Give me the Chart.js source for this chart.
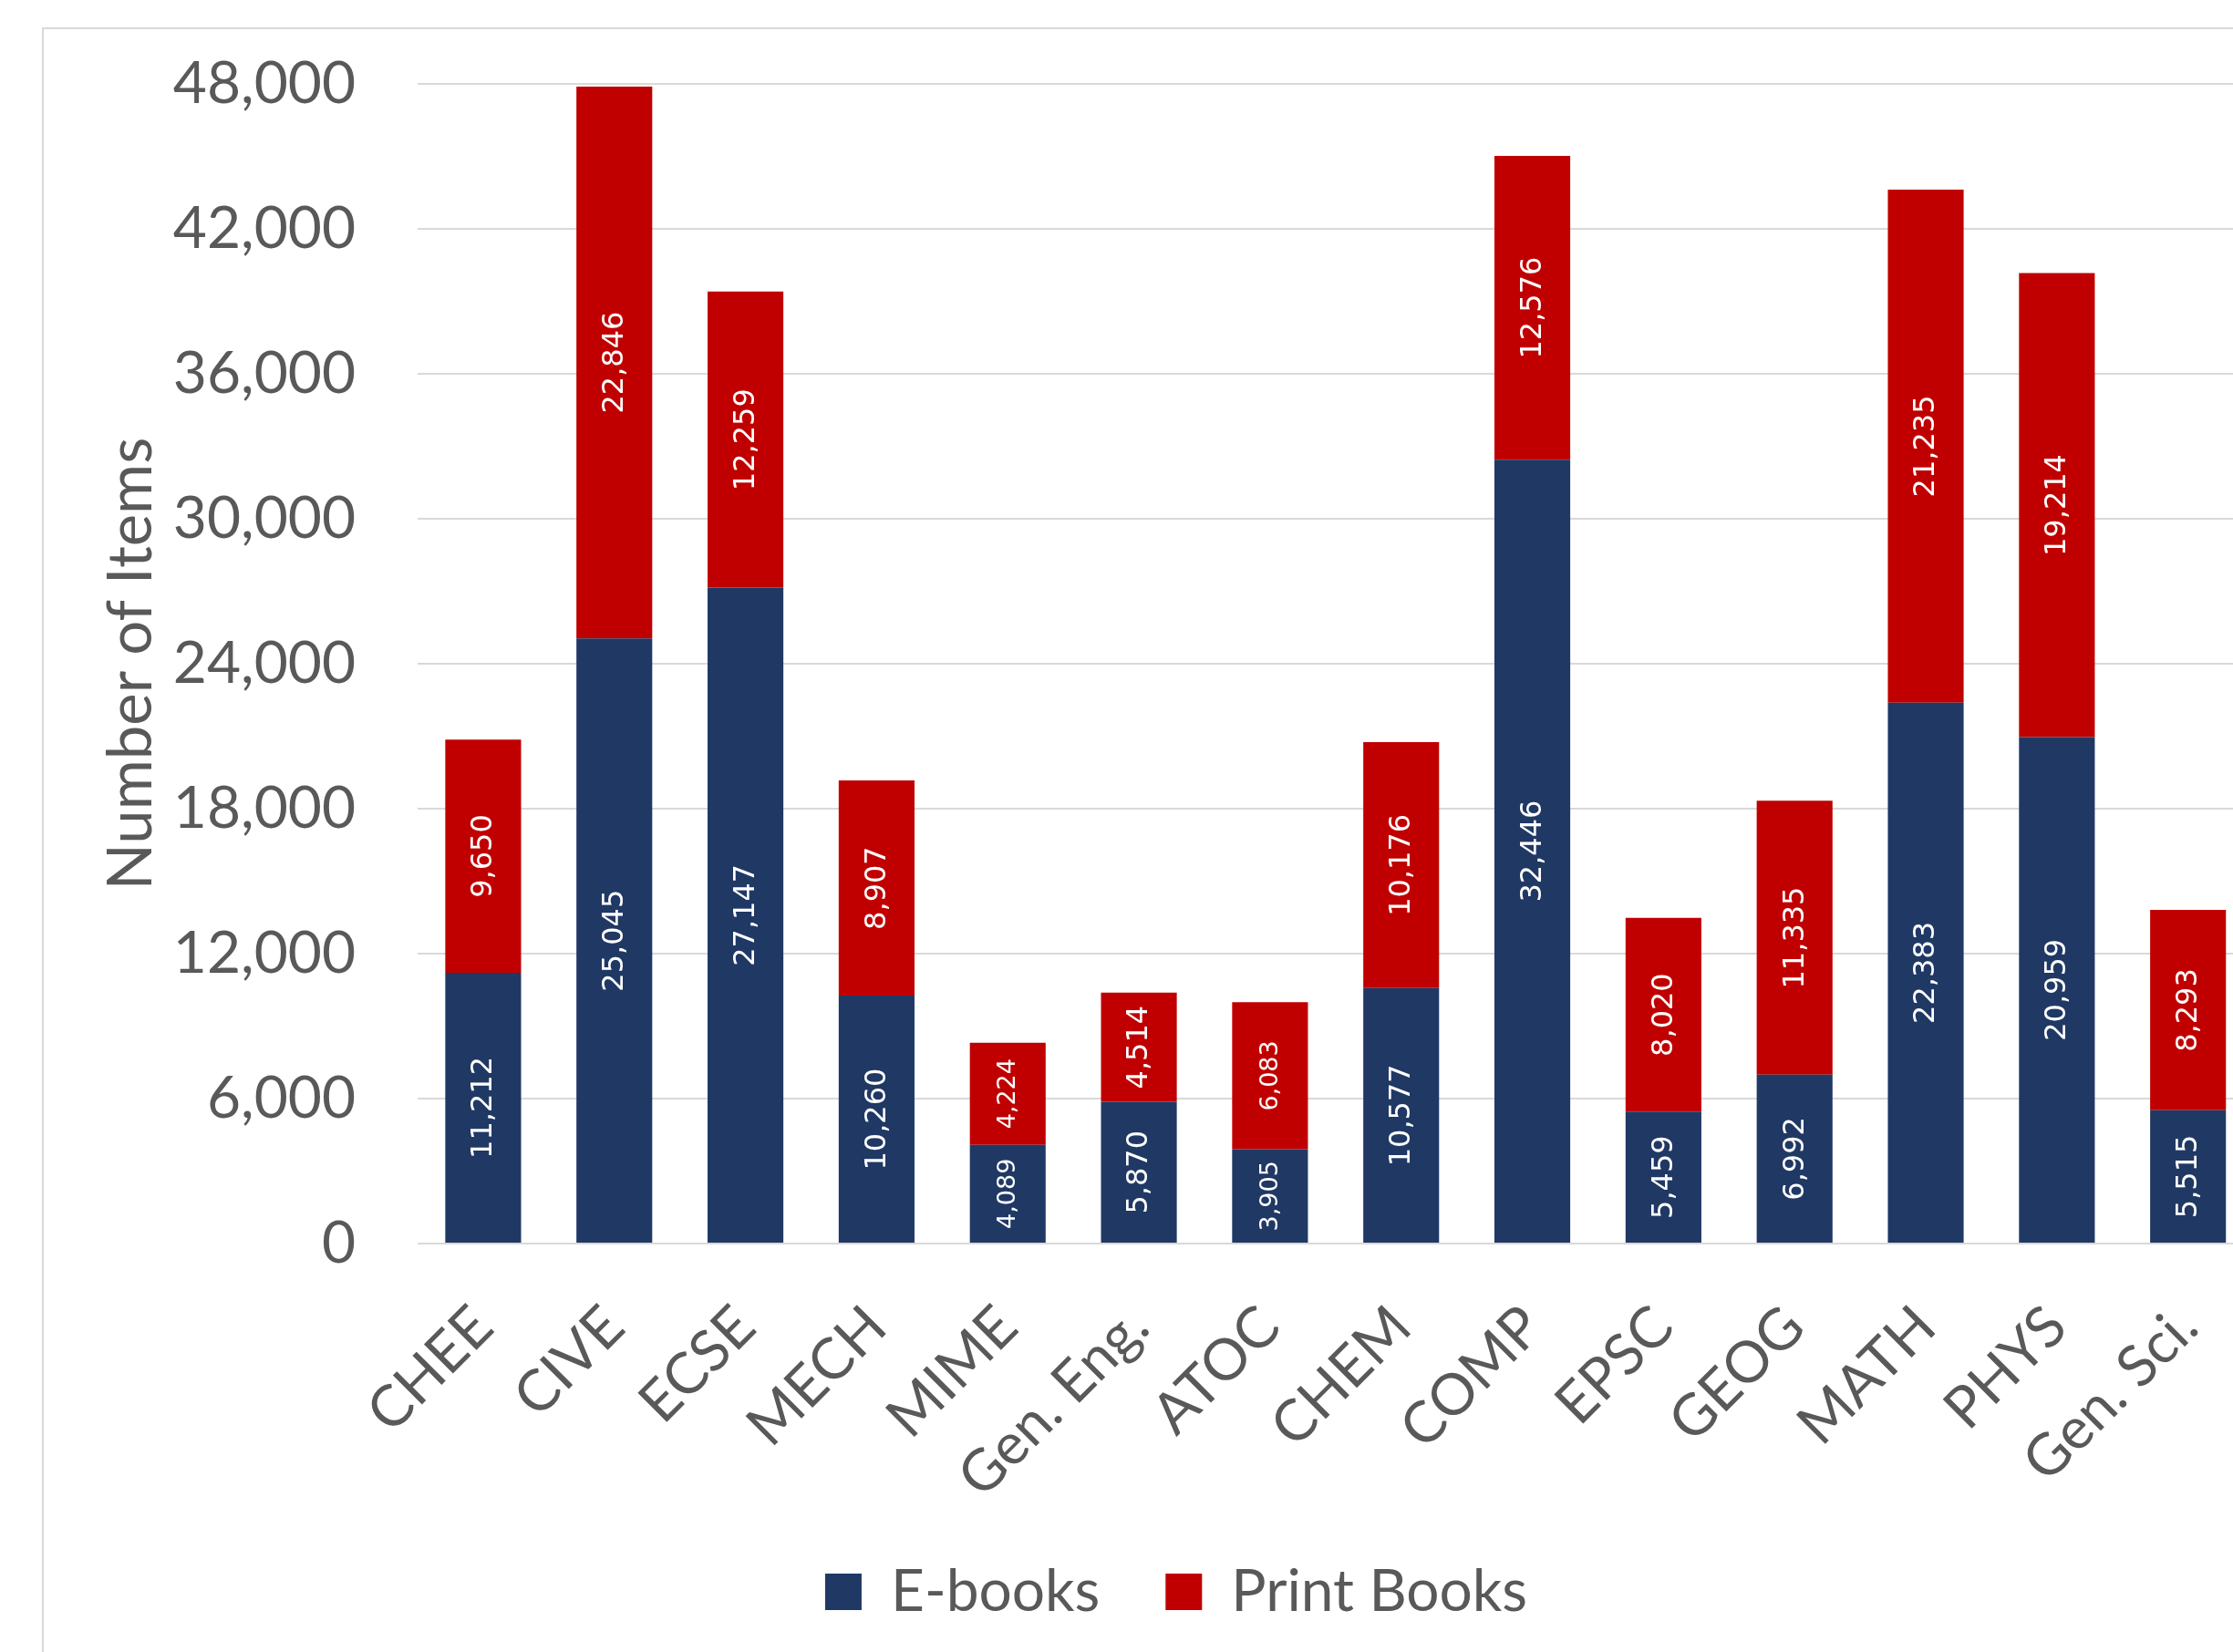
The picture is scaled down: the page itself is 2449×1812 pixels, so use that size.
<!DOCTYPE html>
<html><head><meta charset="utf-8">
<script src="https://cdn.jsdelivr.net/npm/chart.js@4"></script>
<style>
html,body{margin:0;padding:0;overflow:hidden;background:#fff;width:2449px;height:1812px;}
#frame{position:absolute;left:46px;top:30px;width:2700px;height:2000px;border:2px solid #d9d9d9;box-sizing:border-box;}
#wrap{position:absolute;left:0;top:0;width:2500px;height:1850px;}
</style></head><body>
<div id="frame"></div>
<div id="wrap"><canvas id="c" width="2500" height="1850"></canvas></div>
<script>
const categories = ['CHEE','CIVE','ECSE','MECH','MIME','Gen. Eng.','ATOC','CHEM','COMP','EPSC','GEOG','MATH','PHYS','Gen. Sci.'];
const ebooks     = [11212, 25045, 27147, 10260, 4089, 5870, 3905, 10577, 32446, 5459, 6992, 22383, 20959, 5515];
const printBooks = [9650, 22846, 12259, 8907, 4224, 4514, 6083, 10176, 12576, 8020, 11335, 21235, 19214, 8293];
const yTicks     = [0, 6000, 12000, 18000, 24000, 30000, 36000, 42000, 48000];
const seriesNames = ['E-books', 'Print Books'];

// categories whose in-bar labels are drawn smaller (as in the reference)
const smallLabelCats = ['MIME', 'ATOC'];

const TXT = '#595959';
const FONT = 'Lato';

const barLabels = {
  id: 'barLabels',
  afterDatasetsDraw(chart) {
    const ctx = chart.ctx;
    ctx.save();
    ctx.fillStyle = '#ffffff';
    ctx.textAlign = 'center';
    ctx.textBaseline = 'middle';
    chart.data.datasets.forEach((ds, di) => {
      const meta = chart.getDatasetMeta(di);
      meta.data.forEach((el, i) => {
        const p = el.getProps(['x', 'y', 'base'], true);
        const cy = (p.y + p.base) / 2;
        const size = smallLabelCats.includes(categories[i]) ? 27 : 32;
        ctx.font = size + 'px "DejaVu Sans"';
        ctx.save();
        ctx.translate(p.x + 1, cy);
        ctx.rotate(-Math.PI / 2);
        ctx.fillText(ds.data[i].toLocaleString('en-US'), 0, 0);
        ctx.restore();
      });
    });
    ctx.restore();
  }
};

new Chart(document.getElementById('c'), {
  type: 'bar',
  data: {
    labels: categories,
    datasets: [
      { label: seriesNames[0], data: ebooks, backgroundColor: '#203864', borderWidth: 0, barPercentage: 0.578, categoryPercentage: 1 },
      { label: seriesNames[1], data: printBooks, backgroundColor: '#C00000', borderWidth: 0, barPercentage: 0.578, categoryPercentage: 1 }
    ]
  },
  options: {
    responsive: false,
    animation: false,
    devicePixelRatio: 1,
    layout: { padding: { left: 104, right: 24, top: 92, bottom: 62 } },
    plugins: {
      tooltip: { enabled: false },
      legend: {
        position: 'bottom',
        labels: { font: { family: FONT, size: 64 }, color: TXT, boxWidth: 40, boxHeight: 40, padding: 72 }
      }
    },
    scales: {
      x: {
        stacked: true,
        grid: { display: false },
        border: { display: false },
        ticks: { maxRotation: 45, minRotation: 45, autoSkip: false, font: { family: FONT, size: 63 }, color: TXT, padding: 46 },
        afterFit(s) { s.height = 278; }
      },
      y: {
        stacked: true,
        min: 0, max: 48000,
        afterBuildTicks(s) { s.ticks = yTicks.map(v => ({ value: v })); },
        grid: { color: '#d9d9d9', lineWidth: 2, drawTicks: true, tickLength: 48, tickColor: 'rgba(0,0,0,0)' },
        border: { display: false },
        ticks: { font: { family: FONT, size: 64 }, color: TXT, padding: 20, callback: v => v.toLocaleString('en-US') },
        title: { display: true, text: 'Number of Items', font: { family: FONT, size: 67 }, color: TXT, padding: 0 },
        afterFit(s) { s.width = 354; }
      }
    }
  },
  plugins: [barLabels]
});
</script>
</body></html>
